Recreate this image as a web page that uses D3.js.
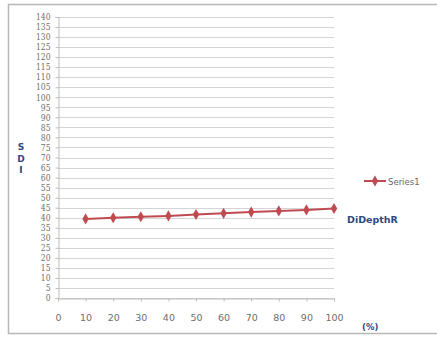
<!DOCTYPE html>
<html>
<head>
<meta charset="utf-8">
<script src="https://cdn.jsdelivr.net/npm/d3@7"></script>
<style>
  body { margin: 0; background: #fff; }
  svg { display: block; }
</style>
</head>
<body>
<div id="chart"></div>
<script>
// data
const xValues = [10, 20, 30, 40, 50, 60, 70, 80, 90, 100];
const sdiValues = [39.4, 40.0, 40.5, 40.9, 41.6, 42.2, 42.8, 43.4, 43.9, 44.6];
const xTicks = [0, 10, 20, 30, 40, 50, 60, 70, 80, 90, 100];
const yTicks = d3.range(0, 141, 5);
const seriesName = "Series1";

const W = 437, H = 337;
const svg = d3.select("#chart").append("svg")
    .attr("width", W).attr("height", H);

// outer frame
svg.append("rect")
    .attr("x", 8.5).attr("y", 4.5)
    .attr("width", W).attr("height", 329)
    .attr("fill", "none")
    .attr("stroke", "#b8b8b8")
    .attr("stroke-width", 1.5);

const x = d3.scaleLinear().domain([0, 100]).range([58, 334]);
const y = d3.scaleLinear().domain([0, 140]).range([298, 17]);

// gridlines
svg.append("g")
    .selectAll("line")
    .data(yTicks)
    .enter().append("line")
    .attr("x1", x(0)).attr("x2", x(100))
    .attr("y1", d => Math.round(y(d)) + 0.5)
    .attr("y2", d => Math.round(y(d)) + 0.5)
    .attr("stroke", "#d4d4d4");

// y axis
const yAxis = svg.append("g")
    .attr("transform", `translate(${x(0) + 0.5},0)`)
    .call(d3.axisLeft(y).tickValues(yTicks).tickSize(3).tickPadding(4));
yAxis.select(".domain").attr("stroke", "#bdbdbd");
yAxis.selectAll(".tick line").attr("stroke", "#bdbdbd");
yAxis.selectAll("text")
    .attr("fill", "#6e6e6e")
    .style("font-family", "'DejaVu Serif', serif")
    .style("font-size", "8.5px")
    .attr("transform", "scale(0.9,1)")
    .attr("x", -8 / 0.9);

// x axis
const xAxis = svg.append("g")
    .attr("transform", `translate(0,${Math.round(y(0)) + 0.5})`)
    .call(d3.axisBottom(x).tickValues(xTicks).tickSize(3).tickPadding(13));
xAxis.select(".domain").attr("stroke", "#bdbdbd");
xAxis.selectAll(".tick line").attr("stroke", "#bdbdbd");
xAxis.selectAll("text")
    .attr("fill", "#6e6e6e")
    .style("font-family", "'DejaVu Sans', sans-serif")
    .style("font-size", "9.5px");

// series line
const lineColor = "#bf4b50";
svg.append("path")
    .datum(xValues.map((v, i) => [v, sdiValues[i]]))
    .attr("fill", "none")
    .attr("stroke", lineColor)
    .attr("stroke-width", 2)
    .attr("d", d3.line().x(d => x(d[0])).y(d => y(d[1])));

const diamond = d3.symbol().type(d3.symbolDiamond).size(36);
svg.append("g")
    .selectAll("path")
    .data(xValues)
    .enter().append("path")
    .attr("transform", (d, i) => `translate(${x(d)},${y(sdiValues[i])})`)
    .attr("d", diamond)
    .attr("fill", lineColor);

// y title, stacked letters
const titleColor = "#2d4a80";
["S", "D", "I"].forEach((c, i) => {
    svg.append("text")
        .attr("x", 21).attr("y", 150 + i * 11.5)
        .attr("text-anchor", "middle")
        .attr("fill", titleColor)
        .style("font-family", "'DejaVu Sans', sans-serif")
        .style("font-weight", "bold")
        .style("font-size", "9px")
        .text(c);
});

// x title pieces
svg.append("text")
    .attr("x", 347).attr("y", 223)
    .attr("fill", titleColor)
    .style("font-family", "'DejaVu Sans', sans-serif")
    .style("font-weight", "bold")
    .style("font-size", "9.5px")
    .text("DiDepthR");

svg.append("text")
    .attr("x", 362).attr("y", 330)
    .attr("fill", titleColor)
    .style("font-family", "'DejaVu Sans', sans-serif")
    .style("font-weight", "bold")
    .style("font-size", "8.5px")
    .text("(%)");

// legend
svg.append("line")
    .attr("x1", 364).attr("x2", 386)
    .attr("y1", 181).attr("y2", 181)
    .attr("stroke", lineColor).attr("stroke-width", 2);
svg.append("path")
    .attr("transform", "translate(375,181)")
    .attr("d", diamond)
    .attr("fill", lineColor);
svg.append("text")
    .attr("x", 388).attr("y", 184.5)
    .attr("fill", "#666")
    .style("font-family", "'DejaVu Sans', sans-serif")
    .style("font-size", "8.5px")
    .text(seriesName);
</script>
</body>
</html>
